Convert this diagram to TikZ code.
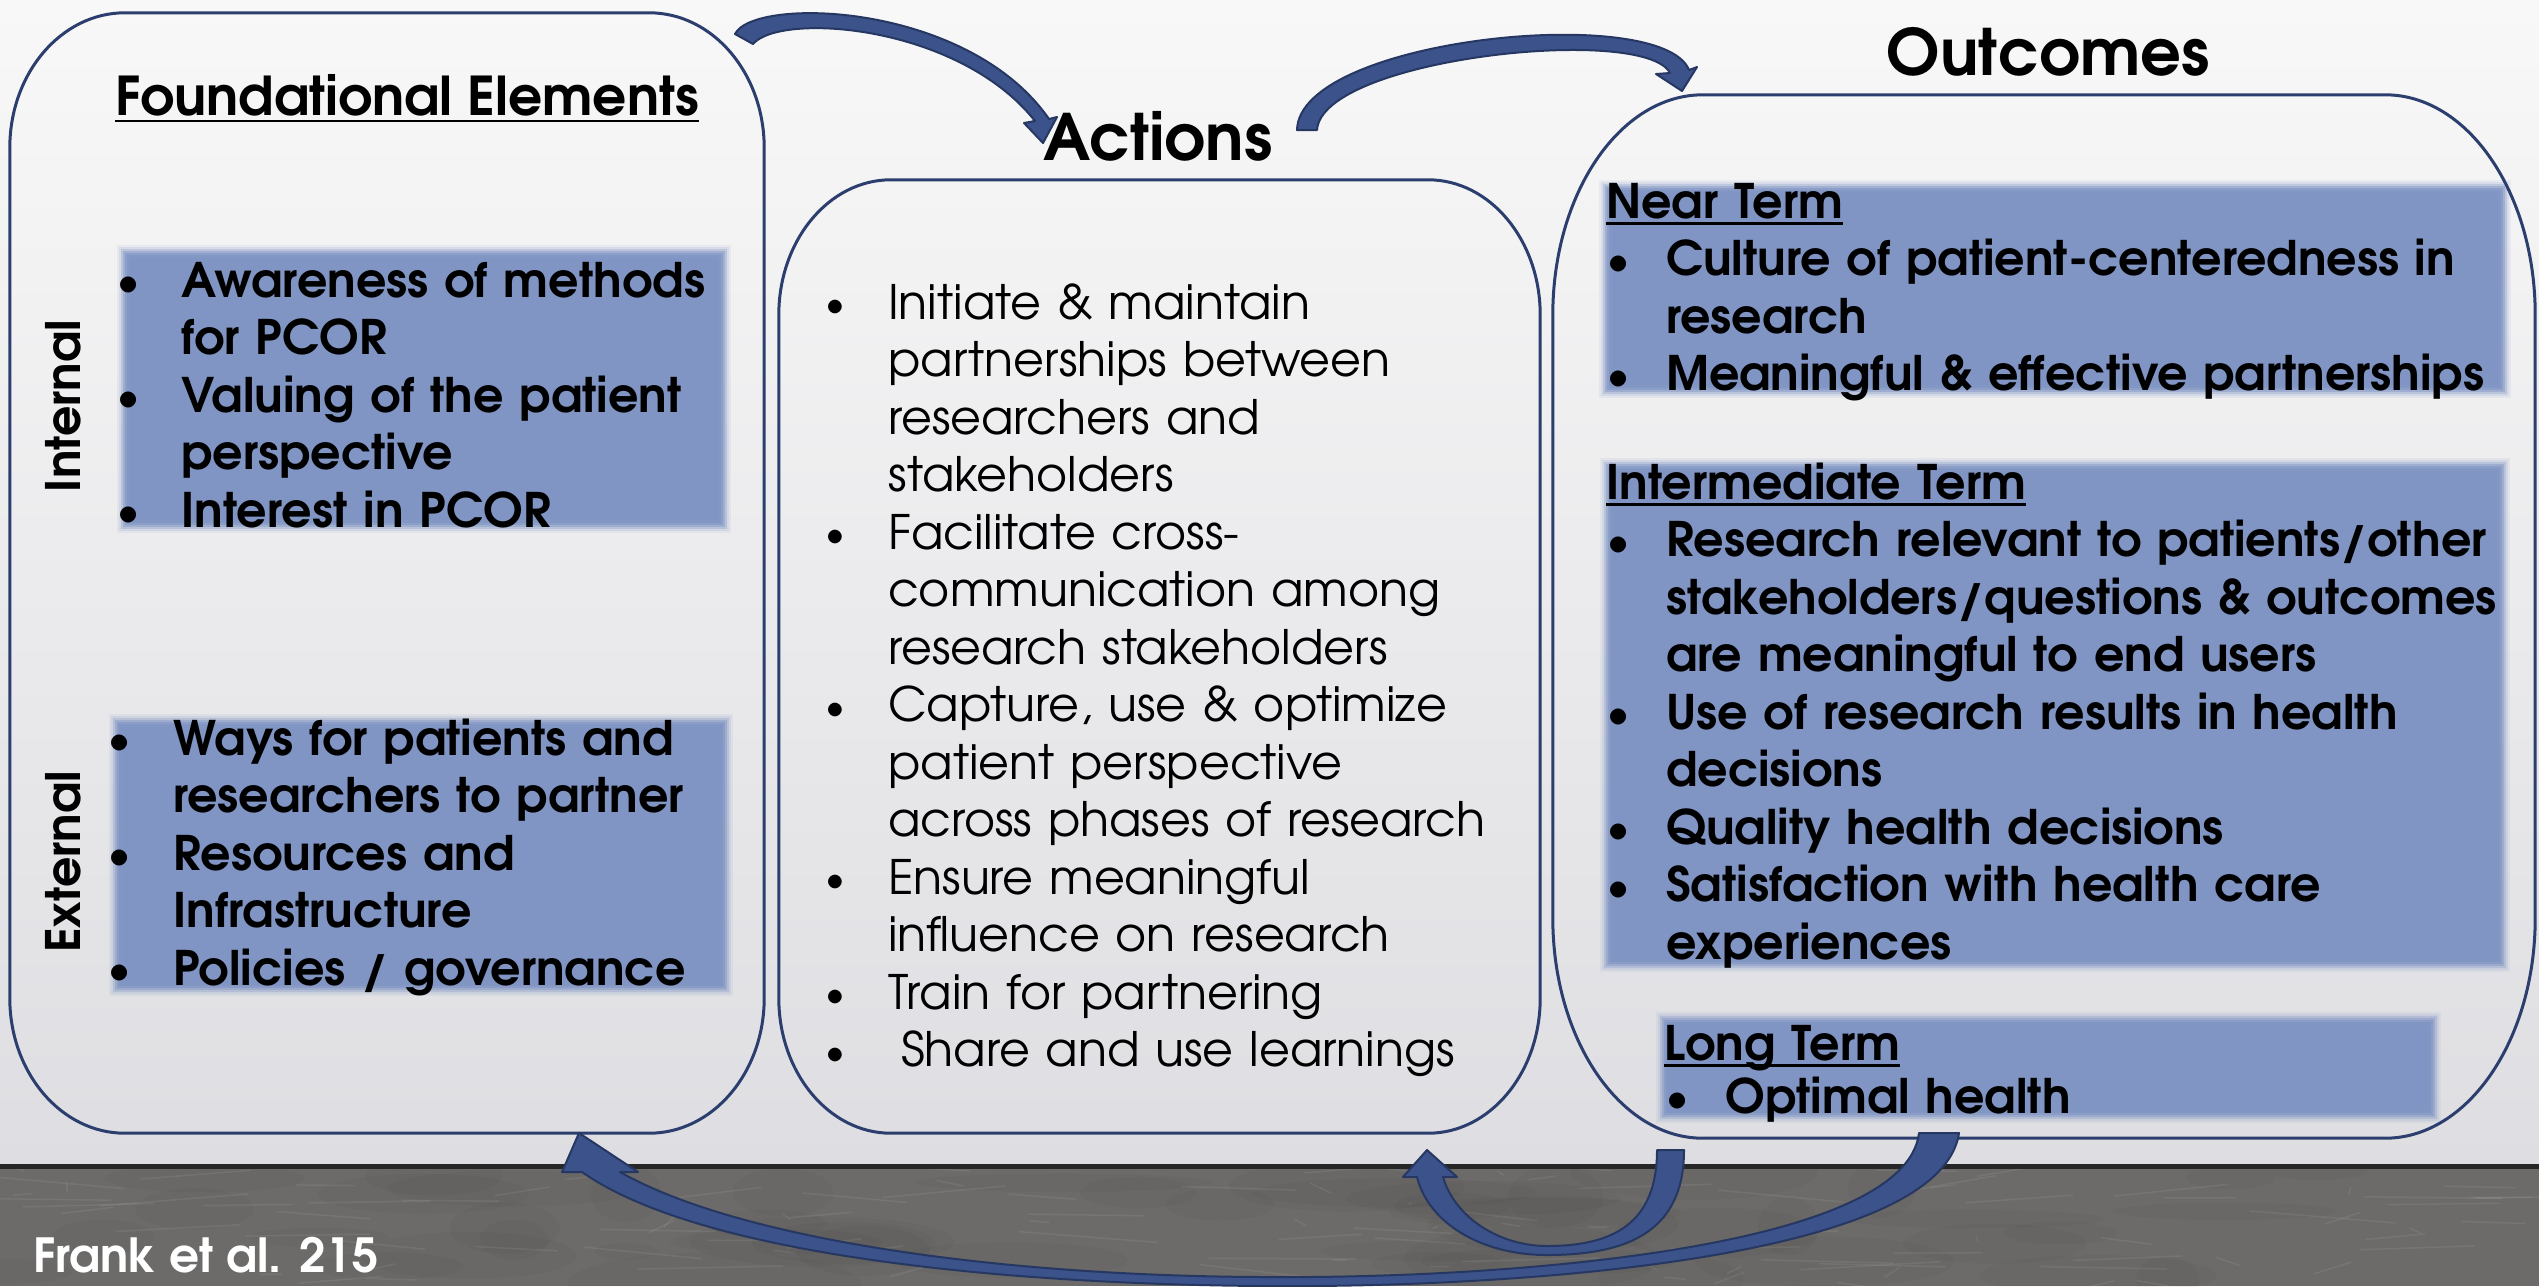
\documentclass[tikz,border=0pt]{standalone}
\usepackage{fontspec}
\setmainfont{TeX Gyre Adventor}
\usetikzlibrary{calc}

\definecolor{bgtop}{RGB}{248,248,248}
\definecolor{bgbot}{RGB}{222,222,226}
\definecolor{concrete}{RGB}{108,107,106}
\definecolor{hl}{RGB}{128,149,196}
\definecolor{edgeblue}{RGB}{44,62,110}
\definecolor{arrowfill}{RGB}{59,82,139}
\definecolor{arrowedge}{RGB}{38,55,97}

% bullet in a box of given width, and a matching indent for continuation lines
\newcommand\bul[1]{\makebox[#1][l]{\hspace*{-5pt}\raisebox{0.05em}{\scalebox{0.8}{\textbullet}}}}
\newcommand\ind[1]{\hspace*{#1}}
% underline at a fixed depth below the baseline
\newcommand\undl[1]{\setbox0=\hbox{#1}\rlap{\rule[-0.14em]{\wd0}{0.055em}}\box0}

% outline of a node as a rectangle with elliptical corners (rx, ry)
\newcommand\ovalframe[3]{%
  \draw[boxline] let \p1=(#1.north west), \p2=(#1.south east) in
    ({\x1+#2},\y1) -- ({\x2-#2},\y1)
    .. controls ({\x2-0.448*#2},\y1) and (\x2,{\y1-0.448*#3}) .. (\x2,{\y1-#3})
    -- (\x2,{\y2+#3})
    .. controls (\x2,{\y2+0.448*#3}) and ({\x2-0.448*#2},\y2) .. ({\x2-#2},\y2)
    -- ({\x1+#2},\y2)
    .. controls ({\x1+0.448*#2},\y2) and (\x1,{\y2+0.448*#3}) .. (\x1,{\y2+#3})
    -- (\x1,{\y1-#3})
    .. controls (\x1,{\y1-0.448*#3}) and ({\x1+0.448*#2},\y1) .. ({\x1+#2},\y1) -- cycle;}

% blue highlight panel with soft edges
\newcommand\softpanel[1]{%
  \foreach \k/\op in {8/0.1,6/0.15,4/0.3,2/0.45,0/0.6,-2/0.8,-5/1}{%
    \fill[hl, opacity=\op] let \p1=(#1.north west), \p2=(#1.south east) in
      ({\x1-(\k pt)},{\y1+(\k pt)}) rectangle ({\x2+(\k pt)},{\y2-(\k pt)});}}

\tikzset{
  zone/.style={rectangle, inner sep=0pt, draw=none},
  panel/.style={rectangle, inner sep=0pt, draw=none},
  boxline/.style={draw=edgeblue, line width=3pt},
  listb/.style={anchor=base west, inner sep=0pt, align=left, text width=#1,
    font=\bfseries\fontsize{47.6}{57.5}\selectfont},
  listr/.style={anchor=base west, inner sep=0pt, align=left, text width=#1,
    font=\fontsize{47.5}{57.5}\selectfont},
  headline/.style={anchor=base, inner sep=0pt, font=\bfseries\fontsize{#1}{#1}\selectfont},
  sidelabel/.style={rotate=90, anchor=base, inner sep=0pt,
    font=\bfseries\fontsize{47.5}{47.5}\selectfont},
  arrowshape/.style={fill=arrowfill, draw=arrowedge, line width=2pt, line join=round},
}

\begin{document}
\begin{tikzpicture}[x=1pt, y=-1pt]
\useasboundingbox (0,0) rectangle (2539,1286);

% backdrop: light wall and concrete floor strip
\shade[top color=bgtop, bottom color=bgbot] (0,0) rectangle (2539,1166);
\fill[concrete] (0,1166) rectangle (2539,1286);
\begin{scope}
  \clip (0,1169) rectangle (2539,1286);
  \pgfmathsetseed{11}
  \foreach \i in {1,...,50}{
    \pgfmathsetmacro\xa{rnd*2539}
    \pgfmathsetmacro\ya{1170+rnd*116}
    \pgfmathsetmacro\rx{30+rnd*120}
    \pgfmathsetmacro\ry{8+rnd*25}
    \fill[black, opacity=0.025] (\xa,\ya) ellipse [x radius=\rx, y radius=\ry];
  }
  \foreach \i in {1,...,110}{
    \pgfmathsetmacro\xa{rnd*2539}
    \pgfmathsetmacro\ya{1170+rnd*116}
    \pgfmathsetmacro\dx{rnd*300-150}
    \pgfmathsetmacro\dy{rnd*24-12}
    \draw[white, opacity=0.07, line width=1.5pt] (\xa,\ya) -- ++(\dx,\dy);
  }
\end{scope}
\fill[black!85] (0,1164) rectangle (2539,1169);

% the three columns
\node[zone, minimum width=754pt, minimum height=1120pt] (found) at (387,573) {};
\node[zone, minimum width=761pt, minimum height=953pt] (actions) at (1159.5,656.5) {};
\node[zone, minimum width=982pt, minimum height=1043pt] (outcomes) at (2044,616.5) {};

% highlight panels
\node[panel, minimum width=598pt, minimum height=272pt] (pint) at (424,389) {};
\node[panel, minimum width=607pt, minimum height=266pt] (pext) at (421,855) {};
\node[panel, minimum width=895pt, minimum height=202pt] (pnear) at (2055,289) {};
\node[panel, minimum width=894pt, minimum height=498pt] (pmid) at (2055,715) {};
\node[panel, minimum width=769pt, minimum height=95pt] (plong) at (2048.5,1067.5) {};
\softpanel{pint}
\softpanel{pext}
\softpanel{pnear}
\softpanel{pmid}
\softpanel{plong}

\ovalframe{found}{115pt}{135pt}
\ovalframe{actions}{112pt}{135pt}
\ovalframe{outcomes}{150pt}{220pt}

% headings
\node[headline=53.5] (ftitle) at (407,115) {\undl{Foundational Elements}};
\node[headline=64] (atitle) at (1158,160) {Actions};
\node[headline=64] (otitle) at (2048,75) {Outcomes};
\node[sidelabel] (intlab) at (80,406) {Internal};
\node[sidelabel] (extlab) at (80,862) {External};

% foundational elements
\node[listb=640pt] (intlist) at (122,297) {%
  \bul{59pt}Awareness of methods\\
  \ind{59pt}for PCOR\\
  \bul{59pt}Valuing of the patient\\
  \ind{59pt}perspective\\
  \bul{59pt}Interest in PCOR};
\node[listb=640pt] (extlist) at (113,755) {%
  \bul{60pt}Ways for patients and\\
  \ind{60pt}researchers to partner\\
  \bul{60pt}Resources and\\
  \ind{60pt}Infrastructure\\
  \bul{60pt}Policies / governance};

% actions
\node[listr=700pt] (actlist) at (830,319) {%
  \bul{58pt}Initiate \& maintain\\
  \ind{58pt}partnerships between\\
  \ind{58pt}researchers and\\
  \ind{58pt}stakeholders\\
  \bul{58pt}Facilitate cross-\\
  \ind{58pt}communication among\\
  \ind{58pt}research stakeholders\\
  \bul{58pt}Capture, use \& optimize\\
  \ind{58pt}patient perspective\\
  \ind{58pt}across phases of research\\
  \bul{58pt}Ensure meaningful\\
  \ind{58pt}influence on research\\
  \bul{58pt}Train for partnering\\
  \bul{71pt}Share and use learnings};

% outcomes
\node[listb=1000pt] (nearlist) at (1606,218) {%
  \undl{Near Term}\\
  \ind{6pt}\bul{54pt}Culture of patient-centeredness in\\
  \ind{60pt}research\\
  \ind{6pt}\bul{54pt}Meaningful \& effective partnerships};
\node[listb=1000pt] (midlist) at (1606,499) {%
  \undl{Intermediate Term}\\
  \ind{6pt}\bul{54pt}Research relevant to patients/other\\
  \ind{60pt}stakeholders/questions \& outcomes\\
  \ind{60pt}are meaningful to end users\\
  \ind{6pt}\bul{54pt}Use of research results in health\\
  \ind{60pt}decisions\\
  \ind{6pt}\bul{54pt}Quality health decisions\\
  \ind{6pt}\bul{54pt}Satisfaction with health care\\
  \ind{60pt}experiences};
\node[listb=900pt] (longlist) at (1664,1060) {%
  \undl{Long Term}\\[-4.5pt]
  \ind{7pt}\bul{54pt}Optimal health};

\node[anchor=base west, inner sep=0pt, text=white,
      font=\bfseries\fontsize{47}{47}\selectfont] (cite) at (33,1272) {Frank et al. 215};

% connector end points
\coordinate (a1start) at (735,34);
\coordinate (a1tip) at (1043,143);
\coordinate (a2start) at (1297,130);
\coordinate (a2tip) at (1682,91);
\coordinate (a3start) at (1959,1133);
\coordinate (a3tip) at (579,1133);
\coordinate (a4start) at (1684,1150);
\coordinate (a4tip) at (1427,1150);

% foundational elements -> actions
\path[arrowshape] (a1start) .. controls (754,-4) and (968,2) .. (1049,119)
  -- (1057,117) -- (a1tip) -- (1024,123) -- (1035,121)
  .. controls (958,24) and (780,12) .. (753,44) -- cycle;
% actions -> outcomes
\path[arrowshape] (a2start) .. controls (1299,38) and (1662,2) .. (1689,70)
  -- (1697,67) -- (a2tip) -- (1656,74) -- (1670,73)
  .. controls (1645,24) and (1322,58) .. (1317,130) -- cycle;
% outcomes -> foundational elements
\path[arrowshape] (a3start) .. controls (1940,1262) and (1500,1288) .. (1263,1286)
  .. controls (1000,1284) and (700,1255) .. (582,1172)
  -- (562,1172) -- (a3tip) -- (638,1172) -- (620,1172)
  .. controls (740,1240) and (1000,1276) .. (1263,1277)
  .. controls (1500,1279) and (1905,1250) .. (1919,1133) -- cycle;
% outcomes -> actions
\path[arrowshape] (a4start) .. controls (1684,1230) and (1630,1255) .. (1547,1255)
  .. controls (1480,1255) and (1428,1222) .. (1417,1177)
  -- (1403,1177) -- (a4tip) -- (1457,1177) -- (1443,1177)
  .. controls (1455,1218) and (1500,1246) .. (1547,1246)
  .. controls (1615,1246) and (1657,1222) .. (1657,1150) -- cycle;

\end{tikzpicture}
\end{document}
